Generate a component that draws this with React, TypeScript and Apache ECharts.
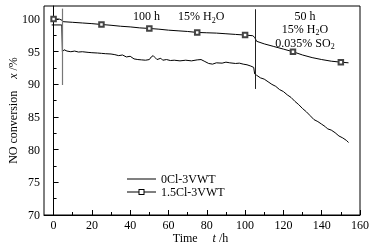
import React, { useEffect, useRef } from "react";
import * as echarts from "echarts";

// 1.5Cl-3VWT (square markers every 25 h)
const t15Cl = [-1, 0, 3, 4.5, 5, 10, 15, 20, 25, 30, 35, 40, 45, 50, 55, 60, 65, 70, 75, 80, 85, 90, 95, 100, 104, 105, 106, 110, 115, 120, 125, 130, 135, 140, 145, 150, 154];
const y15Cl = [100.0, 100.0, 100.0, 99.8, 99.6, 99.5, 99.4, 99.3, 99.17, 99.05, 98.9, 98.8, 98.65, 98.56, 98.45, 98.3, 98.2, 98.1, 97.95, 97.9, 97.85, 97.75, 97.65, 97.55, 97.45, 97.2, 96.6, 96.2, 95.8, 95.4, 95.0, 94.5, 94.1, 93.8, 93.55, 93.4, 93.3];
const markerTimes = [0, 25, 50, 75, 100, 125, 150];

// 0Cl-3VWT
const t0Cl = [-1, 4.3, 4.6, 5.5, 7, 9, 11, 13, 15, 18, 20, 23, 25, 27, 30, 32, 34, 36, 38, 40, 42, 44, 46, 48, 50, 51, 52, 53, 54, 56, 57, 59, 61, 63, 66, 69, 72, 75, 77, 79, 81, 83, 85, 88, 90, 92, 95, 97, 99, 101, 103, 104.5, 105, 106, 108, 110, 112, 114, 116, 118, 120, 122, 124, 126, 128, 130, 132, 134, 136, 138, 140, 142, 143, 145, 147, 149, 151, 153, 154];
const y0Cl = [99.1, 99.1, 95.0, 95.3, 95.1, 95.0, 95.1, 94.95, 95.0, 94.9, 94.85, 94.8, 94.75, 94.7, 94.65, 94.55, 94.4, 94.5, 94.2, 94.3, 93.9, 93.8, 93.75, 93.7, 93.8, 94.2, 94.4, 94.1, 93.8, 94.0, 93.7, 93.8, 93.65, 93.7, 93.6, 93.7, 93.6, 93.75, 93.8, 93.5, 93.2, 93.1, 93.3, 93.25, 93.4, 93.3, 93.2, 93.25, 93.1, 93.0, 92.8, 92.6, 91.6, 91.4, 91.0, 90.8, 90.4, 90.0, 89.7, 89.2, 88.9, 88.4, 88.0, 87.4, 86.9, 86.3, 85.8, 85.2, 84.6, 84.3, 83.9, 83.5, 83.2, 83.0, 82.6, 82.1, 81.8, 81.4, 81.1];

const xMajor = [0, 20, 40, 60, 80, 100, 120, 140, 160];
const xMinor = [10, 30, 50, 70, 90, 110, 130, 150];
const yMajor = [70, 75, 80, 85, 90, 95, 100];
const yMinor = [72.5, 77.5, 82.5, 87.5, 92.5, 97.5];

// vertical separators: [time, top, bottom]
const sep1 = [4.7, 101.6, 89.9];
const sep2 = [105.4, 101.5, 89.3];

const FONT = "Liberation Serif";

const ICON_LINE = "path://M0 0 H29 V1 H0 Z";
const ICON_SQUARE_LINE =
  "path://M0 2.5 H11.5 V3.5 H0 Z M17.5 2.5 H29 V3.5 H17.5 Z M11.5 0 H17.5 V6 H11.5 Z M12.5 1 V5 H16.5 V1 Z";

export default function App() {
  const ref = useRef<HTMLDivElement>(null);
  useEffect(() => {
    if (!ref.current) return;
    const chart = echarts.init(ref.current, null, { renderer: "svg" });
    const rich = {
      n: { fontFamily: FONT, fontSize: 12, color: "#000", lineHeight: 12 },
      i: { fontFamily: FONT, fontSize: 12, color: "#000", fontStyle: "italic", lineHeight: 12 },
      sub: { fontFamily: FONT, fontSize: 8, color: "#000", verticalAlign: "bottom", lineHeight: 12, padding: [0, 0, -2, 0] },
    };
    const commonAxis = {
      axisLine: { lineStyle: { color: "#000", width: 1 } },
      splitLine: { show: false },
    };
    chart.setOption({
      animation: false,
      grid: {
        left: 44, right: 11, top: 6, bottom: 32,
        containLabel: false, outerBoundsMode: "none",
        show: true, borderColor: "#000", borderWidth: 1, backgroundColor: "transparent",
      },
      xAxis: [
        {
          type: "value", min: -5, max: 160, interval: 5,
          ...commonAxis,
          axisTick: { inside: true, length: 5, customValues: xMajor, lineStyle: { color: "#000" } },
          axisLabel: { customValues: xMajor, fontFamily: FONT, fontSize: 12, color: "#000", margin: 4 },
          name: "{n|Time}     {i|t} {n|/h} ",
          nameLocation: "middle",
          nameGap: 17,
          nameMoveOverlap: false,
          nameTextStyle: { rich, fontFamily: FONT, fontSize: 12, color: "#000" },
        },
        {
          type: "value", min: -5, max: 160, interval: 5, position: "bottom",
          axisLine: { show: false },
          splitLine: { show: false },
          axisTick: { inside: true, length: 3, customValues: xMinor, lineStyle: { color: "#000" } },
          axisLabel: { show: false },
        },
      ],
      yAxis: [
        {
          type: "value", min: 70, max: 102, interval: 5,
          ...commonAxis,
          axisTick: { inside: true, length: 5, customValues: yMajor, lineStyle: { color: "#000" } },
          axisLabel: { customValues: yMajor, fontFamily: FONT, fontSize: 12, color: "#000", margin: 4 },
          name: "{n|NO conversion}    {i|x} {n|/%}",
          nameLocation: "middle",
          nameGap: 25,
          nameMoveOverlap: false,
          nameTextStyle: { rich, fontFamily: FONT, fontSize: 12, color: "#000" },
        },
        {
          type: "value", min: 70, max: 102, interval: 5, position: "left",
          axisLine: { show: false },
          splitLine: { show: false },
          axisTick: { inside: true, length: 3, customValues: yMinor, lineStyle: { color: "#000" } },
          axisLabel: { show: false },
        },
      ],
      legend: {
        orient: "vertical",
        left: 127,
        top: 173,
        padding: 0,
        itemWidth: 29,
        itemHeight: 14,
        itemGap: 1,
        symbolKeepAspect: true,
        textStyle: { fontFamily: FONT, fontSize: 12, color: "#000" },
        data: [
          { name: "0Cl-3VWT", icon: ICON_LINE, itemStyle: { color: "#000", borderWidth: 0 } },
          { name: "1.5Cl-3VWT", icon: ICON_SQUARE_LINE, itemStyle: { color: "#000", borderWidth: 0 } },
        ],
      },
      series: [
        {
          name: "0Cl-3VWT",
          type: "line",
          symbol: "none",
          color: "#000",
          lineStyle: { color: "#000", width: 1 },
          data: t0Cl.map((t, k) => [t, y0Cl[k]]),
          markLine: {
            silent: true,
            symbol: ["none", "none"],
            label: { show: false },
            data: [
              [
                { coord: [sep1[0], sep1[1]], lineStyle: { color: "#777", width: 1.2, type: "solid" } },
                { coord: [sep1[0], sep1[2]] },
              ],
              [
                { coord: [sep2[0], sep2[1]], lineStyle: { color: "#222", width: 1, type: "solid" } },
                { coord: [sep2[0], sep2[2]] },
              ],
            ],
          },
        },
        {
          name: "1.5Cl-3VWT",
          type: "line",
          symbol: "emptyRect",
          symbolSize: 4.5,
          showAllSymbol: true,
          color: "#000",
          itemStyle: { color: "#444", borderWidth: 1 },
          lineStyle: { color: "#000", width: 1 },
          data: t15Cl.map((t, k) =>
            markerTimes.includes(t) ? [t, y15Cl[k]] : { value: [t, y15Cl[k]], symbol: "none" }
          ),
          z: 3,
        },
      ],
      graphic: [
        { type: "text", left: 133, top: 10, style: { text: "100 h", font: `12px '${FONT}'`, fill: "#000" } },
        {
          type: "text", left: 178, top: 10,
          style: { text: "{n|15% H}{sub|2}{n|O}", rich, fill: "#000" },
        },
        {
          type: "text", x: 305, y: 9.5,
          style: { text: "{n|50 h}", rich, fill: "#000", align: "center" },
        },
        {
          type: "text", x: 305, y: 22.5,
          style: { text: "{n|15% H}{sub|2}{n|O}", rich, fill: "#000", align: "center" },
        },
        {
          type: "text", x: 305, y: 36.5,
          style: { text: "{n|0.035% SO}{sub|2}", rich, fill: "#000", align: "center" },
        },
      ],
    });
    return () => chart.dispose();
  }, []);
  return <div ref={ref} style={{ position: "fixed", left: 0, top: 0, width: 371, height: 247 }} />;
}
